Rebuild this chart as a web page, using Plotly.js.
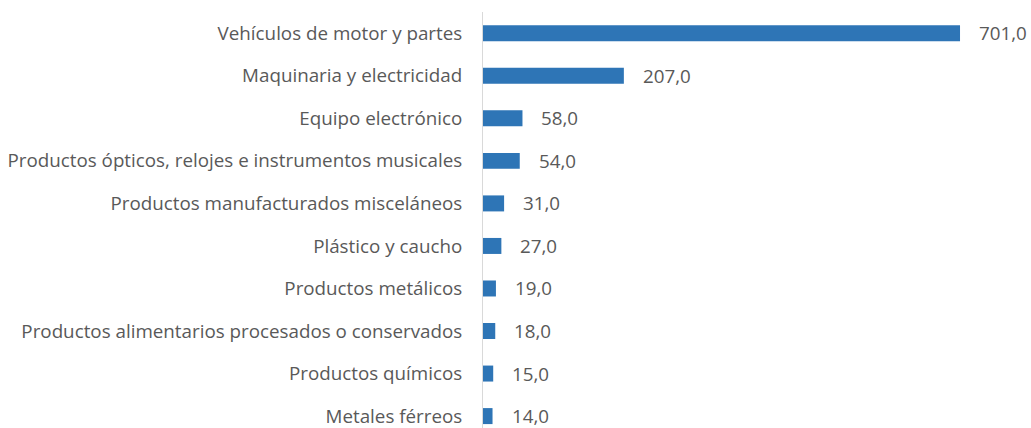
<!DOCTYPE html>
<html><head><meta charset="utf-8">
<script src="https://cdn.plot.ly/plotly-3.0.1.min.js"></script>
<style>body{margin:0;padding:0;background:#fff}#chart{width:1031px;height:428px}</style>
</head><body><div id="chart"></div>
<script>
const categories = [
  "Vehículos de motor y partes",
  "Maquinaria y electricidad",
  "Equipo electrónico",
  "Productos ópticos, relojes e instrumentos musicales",
  "Productos manufacturados misceláneos",
  "Plástico y caucho",
  "Productos metálicos",
  "Productos alimentarios procesados o conservados",
  "Productos químicos",
  "Metales férreos"
];
const values = [701.0, 207.0, 58.0, 54.0, 31.0, 27.0, 19.0, 18.0, 15.0, 14.0];
const labels = values.map(v => v.toFixed(1).replace('.', ','));

const font = {family: "'Open Sans', sans-serif", size: 18.8, color: "#595959"};

const trace = {
  type: 'bar', orientation: 'h',
  y: categories, x: values,
  marker: {color: '#2E75B6'},
  width: 0.376,
  hoverinfo: 'none'
};

const annotations = values.map((v, i) => ({
  x: v, y: categories[i], xref: 'x', yref: 'y',
  text: labels[i], showarrow: false, xanchor: 'left', yanchor: 'middle',
  xshift: 17, font: font
}));

const layout = {
  width: 1031, height: 428,
  margin: {l: 483, r: 0, t: 12, b: 0, pad: 0},
  paper_bgcolor: '#fff', plot_bgcolor: '#fff',
  showlegend: false,
  font: font,
  xaxis: {range: [0, 805.3], visible: false, showgrid: false, zeroline: false, fixedrange: true},
  yaxis: {
    type: 'category', categoryorder: 'array', categoryarray: categories,
    range: [9.28, -0.5], showgrid: false, zeroline: false,
    showline: true, linecolor: '#D9D9D9', linewidth: 1,
    ticks: '', ticklabelstandoff: 16, tickfont: font, fixedrange: true
  },
  annotations: annotations
};

Plotly.newPlot('chart', [trace], layout, {displayModeBar: false, staticPlot: true});
</script></body></html>
